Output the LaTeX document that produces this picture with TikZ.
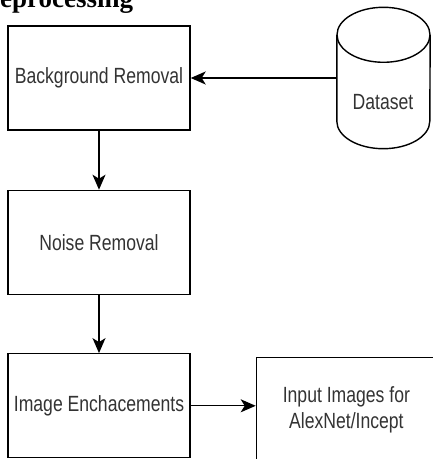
\documentclass[tikz,border=0pt]{standalone}
\usepackage{fontspec}
\setmainfont{Liberation Sans}
\newfontfamily\boxfont{Liberation Sans}[FakeStretch=0.8]
\newfontfamily\titlefont{Liberation Serif}
\usetikzlibrary{arrows.meta,positioning}

\begin{document}
\begin{tikzpicture}[
    x=1pt, y=1pt,
    font=\boxfont\fontsize{22}{26}\selectfont,
    stage/.style={draw, line width=1.4pt, minimum width=182pt, minimum height=104pt,
      align=center, text=black!80, inner sep=0pt},
    arr/.style={-{Stealth[length=15pt, width=13pt, inset=4pt]}, line width=1.4pt}]

  \useasboundingbox (0,0) rectangle (433,459);

  \node[anchor=base west, inner sep=0pt, font=\titlefont\bfseries\fontsize{27}{30}\selectfont]
    (title) at (0,451.5) {eprocessing};

  \node[stage] (bgrem) at (99,381) {Background Removal};
  \node[stage, below=59pt of bgrem] (noise) {Noise Removal};
  \node[stage, below=58pt of noise] (enh) {Image Enchacements};
  \node[stage, minimum width=180pt, minimum height=105pt, right=65pt of enh, yshift=-4pt]
    (input) {Input Images for\\ AlexNet/Incept};

  % dataset cylinder
  \node[minimum width=93pt, minimum height=141pt, inner sep=0pt] (data) at (383.5,381) {};
  \node[text=black!80] (datalbl) at (383,357) {Dataset};
  \draw[line width=1.4pt] ([yshift=-27.5pt]data.north west) -- ([yshift=27.5pt]data.south west)
    arc[start angle=180, end angle=360, x radius=46.5pt, y radius=27.5pt]
    -- ([yshift=-27.5pt]data.north east);
  \draw[line width=1.4pt] ([yshift=-27.5pt]data.north) ellipse[x radius=46.5pt, y radius=27.5pt];

  \draw[arr] (data.west) -- (bgrem.east);
  \draw[arr] (bgrem) -- (noise);
  \draw[arr] (noise) -- (enh);
  \draw[arr] (enh.east) -- (input.west |- enh.east);
\end{tikzpicture}
\end{document}
